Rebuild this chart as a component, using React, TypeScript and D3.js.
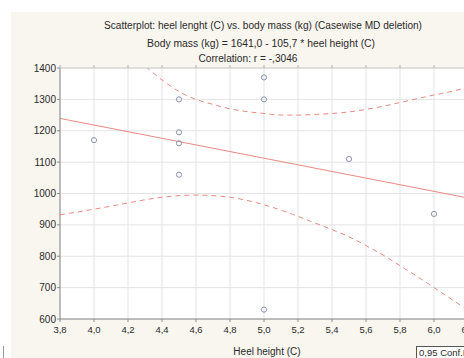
import React from "react";
import * as d3 from "d3";

const title1 = "Scatterplot: heel lenght (C) vs. body mass (kg) (Casewise MD deletion)";
const title2 = "Body mass (kg) = 1641,0 - 105,7  * heel height (C)";
const title3 = "Correlation: r = -,3046";
const xTitle = "Heel height (C)";
const legendText = "0,95 Conf.Int.";

const heel = [4.0, 4.5, 4.5, 4.5, 4.5, 5.0, 5.0, 5.0, 5.5, 6.0];
const mass = [1170, 1300, 1195, 1160, 1060, 1370, 1300, 630, 1110, 935];

const intercept = 1641.0;
const slope = -105.7;

const bandX = [3.8, 4.0, 4.2, 4.3, 4.4, 4.5, 4.6, 4.7, 4.8, 4.9, 5.0, 5.1, 5.2, 5.3, 5.4, 5.5, 5.6, 5.7, 5.8, 5.9, 6.0, 6.1, 6.2, 6.3];
const upperBand = [1560, 1500, 1440, 1405, 1362, 1325, 1300, 1284, 1270, 1261, 1255, 1250, 1250, 1252, 1255, 1260, 1268, 1278, 1290, 1302, 1314, 1325, 1338, 1350];
const lowerBand = [932, 950, 970, 980, 988, 993, 995, 993, 988, 978, 964, 947, 927, 906, 885, 862, 834, 804, 770, 736, 700, 664, 628, 592];

const xTicks = [3.8, 4.0, 4.2, 4.4, 4.6, 4.8, 5.0, 5.2, 5.4, 5.6, 5.8, 6.0, 6.2];
const yTicks = [600, 700, 800, 900, 1000, 1100, 1200, 1300, 1400];

export default function App() {
  const W = 464, H = 358;
  const left = 60, top = 68, bottom = 319;
  const x = d3.scaleLinear().domain([3.8, 6.2]).range([left, left + 2.4 * 170]);
  const y = d3.scaleLinear().domain([600, 1400]).range([bottom, top]);
  const right = x(6.2);
  const fmt = (v: number) => v.toFixed(1).replace(".", ",");

  const regLine = d3.line<number>().x((d) => x(d)).y((d) => y(intercept + slope * d));
  const bandLine = d3.line<number>().x((d, i) => x(bandX[i])).y((d) => y(d)).curve(d3.curveMonotoneX);
  const font = "'Liberation Sans', Arial, sans-serif";
  const red = "#e98a82";
  const txt = "#2a2a2a";

  return (
    <svg width={W} height={H} style={{ position: "absolute", left: 0, top: 0, background: "#ffffff" }} fontFamily={font}>
      <defs>
        <clipPath id="plotClip">
          <rect x={left} y={top} width={right - left} height={bottom - top} />
        </clipPath>
      </defs>
      <rect x={11} y={12} width={W - 11} height={H - 12} fill="#f9f6ef" />
      <line x1={3.5} x2={3.5} y1={346} y2={358} stroke="#999" strokeWidth={1} />
      <text x={263} y={29} fontSize={10} textAnchor="middle" fill={txt} textLength={318} lengthAdjust="spacingAndGlyphs">{title1}</text>
      <text x={261} y={47} fontSize={10} textAnchor="middle" fill={txt} textLength={228} lengthAdjust="spacingAndGlyphs">{title2}</text>
      <text x={248} y={62} fontSize={10} textAnchor="middle" fill={txt} textLength={99} lengthAdjust="spacingAndGlyphs">{title3}</text>
      <rect x={left} y={top} width={right - left} height={bottom - top} fill="#ffffff" />
      {xTicks.map((t) => (
        <line key={"gx" + t} x1={x(t)} x2={x(t)} y1={top} y2={bottom} stroke="#e3e3e3" strokeWidth={1} />
      ))}
      {yTicks.map((t) => (
        <line key={"gy" + t} x1={left} x2={right} y1={y(t)} y2={y(t)} stroke="#e3e3e3" strokeWidth={1} />
      ))}
      <g clipPath="url(#plotClip)">
        <path d={regLine([3.8, 6.2]) || ""} fill="none" stroke={red} strokeWidth={1} />
        <path d={bandLine(upperBand) || ""} fill="none" stroke={red} strokeWidth={1} strokeDasharray="5,4" />
        <path d={bandLine(lowerBand) || ""} fill="none" stroke={red} strokeWidth={1} strokeDasharray="5,4" />
      </g>
      {heel.map((h, i) => (
        <circle key={"p" + i} cx={x(h)} cy={y(mass[i])} r={2.6} fill="none" stroke="#8a93ad" strokeWidth={1} />
      ))}
      <line x1={left} x2={right} y1={bottom} y2={bottom} stroke="#8a8a8a" strokeWidth={1} />
      <line x1={left} x2={left} y1={top} y2={bottom} stroke="#8a8a8a" strokeWidth={1} />
      <line x1={left} x2={right} y1={top} y2={top} stroke="#cfcfcf" strokeWidth={1} />
      {yTicks.map((t) => (
        <g key={"yt" + t}>
          <line x1={left - 3} x2={left} y1={y(t)} y2={y(t)} stroke="#8a8a8a" />
          <text x={left - 4} y={y(t) + 3.5} fontSize={10} textAnchor="end" fill={txt}>{t}</text>
        </g>
      ))}
      {xTicks.map((t) => (
        <g key={"xt" + t}>
          <line x1={x(t)} x2={x(t)} y1={top - 3} y2={top} stroke="#b0b0b0" />
          <line x1={x(t)} x2={x(t)} y1={bottom} y2={bottom + 3} stroke="#8a8a8a" />
          <text x={x(t)} y={333} fontSize={9.5} textAnchor="middle" fill={txt}>{fmt(t)}</text>
        </g>
      ))}
      <text x={267} y={355} fontSize={10} textAnchor="middle" fill={txt}>{xTitle}</text>
      <rect x={416.5} y={346.5} width={80} height={16} fill="#ffffff" stroke="#555" strokeWidth={1} />
      <text x={419} y={356} fontSize={9.5} fill={txt}>{legendText}</text>
    </svg>
  );
}
